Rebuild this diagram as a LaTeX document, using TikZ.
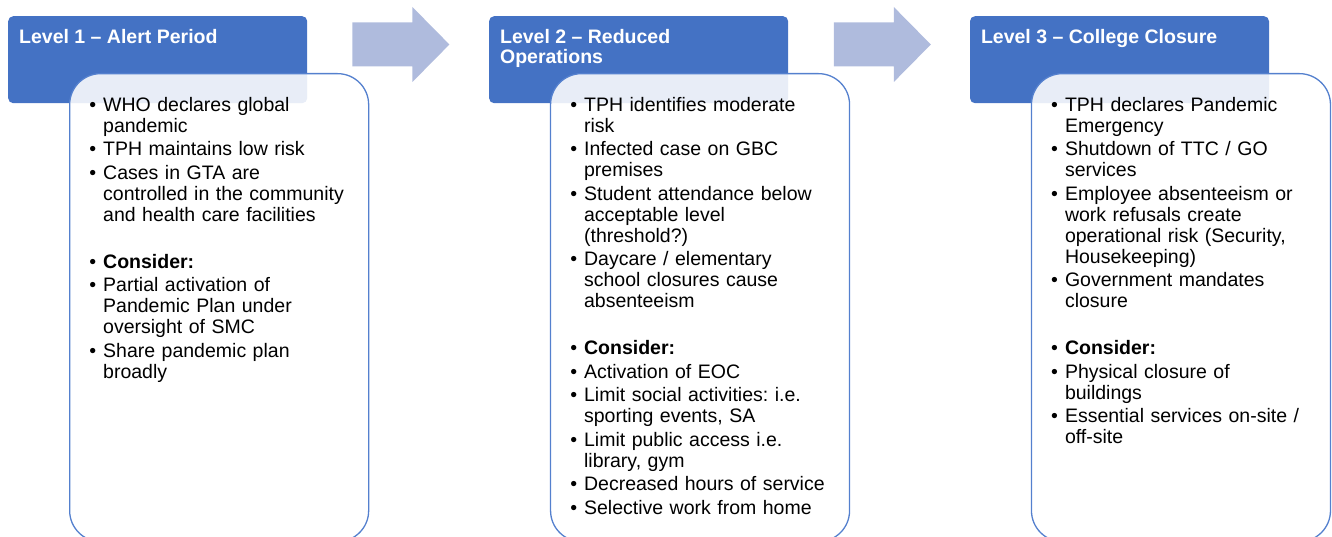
\documentclass[tikz,border=0pt]{standalone}
\usepackage{fontspec}
\setmainfont{Liberation Sans}
\usepackage{enumitem}
\usetikzlibrary{positioning}
\definecolor{levelblue}{RGB}{68,114,196}
\definecolor{paneledge}{RGB}{84,128,206}
\definecolor{stepblue}{RGB}{175,187,221}
\frenchspacing
\tikzset{%
  level head/.style={
    rectangle,
    rounded corners=5bp,
    fill=levelblue,
    minimum width=299bp,
    minimum height=87bp,
    inner sep=0pt,
    anchor=north west
  },
  level title/.style={
    anchor=north west,
    inner sep=0pt,
    align=left,
    text=white,
    font=\bfseries\fontsize{19.5bp}{20.5bp}\selectfont
  },
  panel/.style={
    rectangle,
    rounded corners=31bp,
    draw=paneledge,
    line width=1.3bp,
    fill=white,
    fill opacity=0.88,
    minimum width=299bp,
    minimum height=468bp,
    anchor=north west
  },
  panel text/.style={
    anchor=north west,
    inner sep=0pt,
    text width=275bp,
    align=left,
    font=\fontsize{19.5bp}{21bp}\selectfont
  },
  step arrow/.style={fill=stepblue},
}
\newenvironment{points}
  {\begin{itemize}[label=\textbullet,leftmargin=20bp,labelsep=7bp,
     itemsep=2.5bp,topsep=0pt,parsep=0pt,partopsep=0pt]}
  {\end{itemize}}

\begin{document}
\begin{tikzpicture}[x=1bp,y=-1bp]
  \useasboundingbox (0,0) rectangle (1332,537);
  \clip (0,0) rectangle (1332,537);

  \node[level head] (head1) at (8,16) {};
  \node[level head,right=181.5bp of head1] (head2) {};
  \node[level head,right=181.5bp of head2] (head3) {};

  \node[level title] (title1) at ([xshift=11bp,yshift=-13bp]head1.north west) {Level 1 -- Alert Period};
  \node[level title] (title2) at ([xshift=11bp,yshift=-13bp]head2.north west) {Level 2 -- Reduced\\Operations};
  \node[level title] (title3) at ([xshift=11bp,yshift=-13bp]head3.north west) {Level 3 -- College Closure};

  \node[panel] (panel1) at ([xshift=61bp,yshift=-57bp]head1.north west) {};
  \node[panel] (panel2) at ([xshift=61bp,yshift=-57bp]head2.north west) {};
  \node[panel] (panel3) at ([xshift=61bp,yshift=-57bp]head3.north west) {};

  \node[panel text] (list1) at ([xshift=14bp,yshift=-17bp]panel1.north west) {%
    \begin{points}
      \item WHO declares global\\pandemic
      \item TPH maintains low risk
      \item Cases in GTA are\\controlled in the community\\and health care facilities
      \item[] \strut
      \item \textbf{Consider:}
      \item Partial activation of\\Pandemic Plan under\\oversight of SMC
      \item Share pandemic plan\\broadly
    \end{points}};
  \node[panel text] (list2) at ([xshift=14bp,yshift=-17bp]panel2.north west) {%
    \begin{points}
      \item TPH identifies moderate\\risk
      \item Infected case on GBC\\premises
      \item Student attendance below\\acceptable level\\(threshold?)
      \item Daycare / elementary\\school closures cause\\absenteeism
      \item[] \strut
      \item \textbf{Consider:}
      \item Activation of EOC
      \item Limit social activities: i.e.\\sporting events, SA
      \item Limit public access i.e.\\library, gym
      \item Decreased hours of service
      \item Selective work from home
    \end{points}};
  \node[panel text] (list3) at ([xshift=14bp,yshift=-17bp]panel3.north west) {%
    \begin{points}
      \item TPH declares Pandemic\\Emergency
      \item Shutdown of TTC / GO\\services
      \item Employee absenteeism or\\work refusals create\\operational risk (Security,\\Housekeeping)
      \item Government mandates\\closure
      \item[] \strut
      \item \textbf{Consider:}
      \item Physical closure of\\buildings
      \item Essential services on-site /\\off-site
    \end{points}};

  % block arrows between the levels
  \coordinate (step1) at ([xshift=45bp,yshift=-28.5bp]head1.north east);
  \coordinate (step2) at ([xshift=45.5bp,yshift=-28.5bp]head2.north east);
  \fill[step arrow] (step1) ++(0,-22) -- ++(60,0) -- ++(0,-15.5) -- ++(37,37.5)
    -- ++(-37,37.5) -- ++(0,-15.5) -- ++(-60,0) -- cycle;
  \fill[step arrow] (step2) ++(0,-22) -- ++(60,0) -- ++(0,-15.5) -- ++(37,37.5)
    -- ++(-37,37.5) -- ++(0,-15.5) -- ++(-60,0) -- cycle;
\end{tikzpicture}
\end{document}
